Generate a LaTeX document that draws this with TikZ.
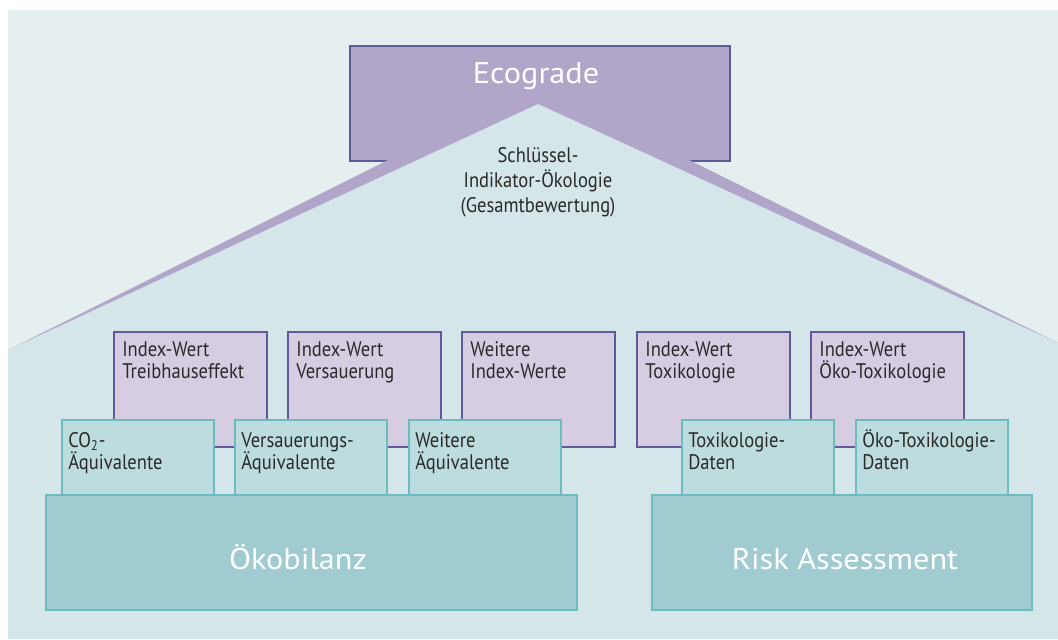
\documentclass[tikz,border=0pt]{standalone}
\usepackage{fontspec}
\setmainfont[FakeStretch=0.88]{PT Sans}
\newfontfamily\widesans[FakeStretch=1.08]{PT Sans}
\usetikzlibrary{positioning}
\definecolor{bgpale}{HTML}{E5EFF0}
\definecolor{housefill}{HTML}{D4E6E9}
\definecolor{ecofill}{HTML}{B1A5C9}
\definecolor{ecoline}{HTML}{5F5B9B}
\definecolor{indexfill}{HTML}{D6CDE2}
\definecolor{teallight}{HTML}{BDDCDD}
\definecolor{tealdark}{HTML}{A0CBD0}
\definecolor{tealline}{HTML}{6CBBBE}
\definecolor{txt}{HTML}{2A2A2A}

\begin{document}
\begin{tikzpicture}[x=0.02cm, y=-0.02cm,
    ibox/.style={draw=ecoline, fill=indexfill, line width=1.1pt, minimum width=3.06cm, minimum height=2.3cm, anchor=north west, inner sep=0},
    sbox/.style={draw=tealline, fill=teallight, line width=1pt, minimum width=3.04cm, minimum height=1.5cm, anchor=north west, inner sep=0},
    basebox/.style={draw=tealline, fill=tealdark, line width=1pt, minimum height=2.3cm, anchor=north west, inner sep=0},
    lbl/.style={anchor=base west, inner sep=0, align=left, text=txt, font=\fontsize{12}{13}\selectfont},
    bigtxt/.style={anchor=base, inner sep=0, text=white, font=\widesans\fontsize{17}{20}\selectfont}
]
\useasboundingbox (0,0) rectangle (1058,639);

% Background
\fill[bgpale] (8,10) rectangle (1058,639);

% Top: Ecograde
\node[draw=ecoline, fill=ecofill, line width=1.1pt, minimum width=7.6cm, minimum height=2.3cm, anchor=north west, inner sep=0] (eco) at (349,45) {};
\fill[ecofill] (8,350) -- (538,85) -- (1058,343) -- cycle;
\fill[housefill] (8,350) -- (538,104) -- (1058,343) -- (1058,639) -- (8,639) -- cycle;
\node[bigtxt] (ecotxt) at (536,83) {Ecograde};
\node[align=center, inner sep=0, text=txt, font=\fontsize{12}{14.2}\selectfont] (key) at (538,182) {Schlüssel-\\Indikator-Ökologie\\(Gesamtbewertung)};

% Index values
\node[ibox] (iw1) at (113,331) {};
\node[ibox] (iw2) at (287,331) {};
\node[ibox] (iw3) at (461,331) {};
\node[ibox] (iw4) at (636,331) {};
\node[ibox] (iw5) at (810,331) {};
\node[lbl] at ([xshift=0.18cm, yshift=-0.96cm]iw1.north west) {Index-Wert\\Treibhauseffekt};
\node[lbl] at ([xshift=0.18cm, yshift=-0.96cm]iw2.north west) {Index-Wert\\Versauerung};
\node[lbl] at ([xshift=0.18cm, yshift=-0.96cm]iw3.north west) {Weitere\\Index-Werte};
\node[lbl] at ([xshift=0.18cm, yshift=-0.96cm]iw4.north west) {Index-Wert\\Toxikologie};
\node[lbl] at ([xshift=0.18cm, yshift=-0.96cm]iw5.north west) {Index-Wert\\Öko-Toxikologie};

% Data / equivalents
\node[sbox] (aq1) at (61,419) {};
\node[sbox] (aq2) at (234,419) {};
\node[sbox] (aq3) at (408,419) {};
\node[sbox] (dat1) at (681,419) {};
\node[sbox] (dat2) at (855,419) {};
\node[lbl] at ([xshift=0.14cm, yshift=-1.02cm]aq1.north west) {CO\textsubscript{2}-\\Äquivalente};
\node[lbl] at ([xshift=0.14cm, yshift=-1.02cm]aq2.north west) {Versauerungs-\\Äquivalente};
\node[lbl] at ([xshift=0.14cm, yshift=-1.02cm]aq3.north west) {Weitere\\Äquivalente};
\node[lbl] at ([xshift=0.14cm, yshift=-1.02cm]dat1.north west) {Toxikologie-\\Daten};
\node[lbl] at ([xshift=0.14cm, yshift=-1.02cm]dat2.north west) {Öko-Toxikologie-\\Daten};

% Base blocks
\node[basebox, minimum width=10.62cm] (oeko) at (45,494) {};
\node[basebox, minimum width=7.6cm] (risk) at (651,494) {};
\node[bigtxt] (oekotxt) at (298,569) {Ökobilanz};
\node[bigtxt] (risktxt) at (845,569) {Risk Assessment};

\end{tikzpicture}
\end{document}
